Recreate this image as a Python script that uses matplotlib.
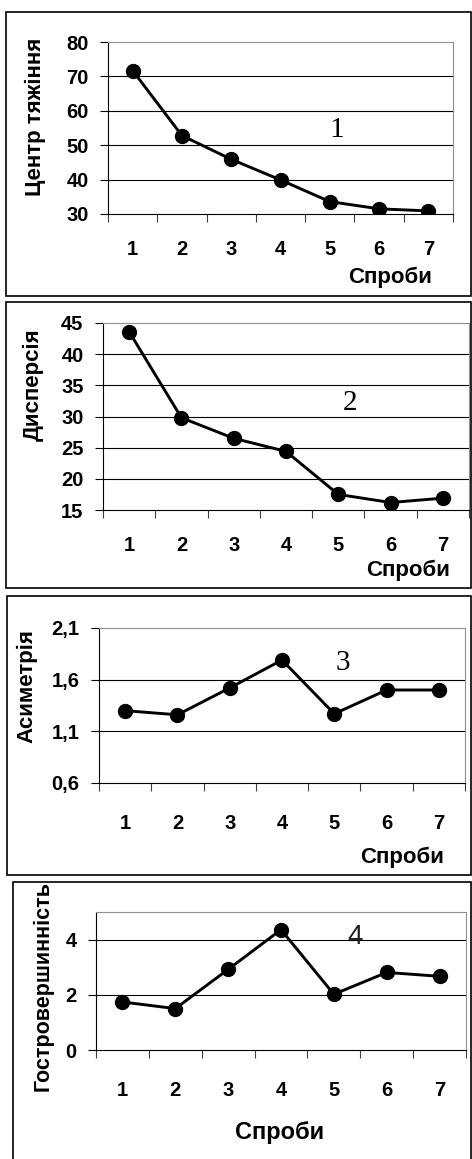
import matplotlib
matplotlib.use('Agg')
import matplotlib.pyplot as plt
from matplotlib.patches import Rectangle
import numpy as np

# data
trials = [1, 2, 3, 4, 5, 6, 7]
centre = [71.7, 52.8, 45.9, 39.9, 33.6, 31.5, 30.9]
dispersion = [43.6, 29.8, 26.5, 24.4, 17.5, 16.2, 16.9]
asymmetry = [1.30, 1.26, 1.52, 1.79, 1.27, 1.50, 1.50]
kurtosis = [1.74, 1.50, 2.92, 4.36, 2.02, 2.81, 2.67]

ylabels = ['Центр тяжіння', 'Дисперсія', 'Асиметрія', 'Гостровершинність']
xlabel = 'Спроби'
yticks1 = [30, 40, 50, 60, 70, 80]
yticks2 = [15, 20, 25, 30, 35, 40, 45]
yticks3 = [0.6, 1.1, 1.6, 2.1]
ytick3_labels = ['0,6', '1,1', '1,6', '2,1']
yticks4 = [0, 2, 4]

W, H = 472, 1159
plt.rcParams['font.family'] = 'Liberation Sans'
fig = plt.figure(figsize=(W / 100, H / 100), dpi=100)

def fx(px):
    return px / W

def fy(py):
    return 1 - py / H

def box(x0, y0, x1, y1):
    fig.patches.append(Rectangle((fx(x0), fy(y1)), fx(x1) - fx(x0), fy(y0) - fy(y1),
                                 transform=fig.transFigure, fill=False,
                                 edgecolor='black', linewidth=1.2))

def panel(l, r, t, b, values, ylim, yticks, grid, ticklabels=None, xpad=19):
    ax = fig.add_axes([fx(l), fy(b), fx(r) - fx(l), fy(t) - fy(b)])
    ax.plot(trials, values, color='black', lw=2.1, marker='o', ms=10)
    ax.set_xlim(0.5, 7.5)
    ax.set_ylim(*ylim)
    ax.set_yticks(yticks)
    if ticklabels is not None:
        ax.set_yticklabels(ticklabels)
    for g in grid:
        ax.axhline(g, color='black', lw=0.8, zorder=0)
    ax.set_xticks(np.arange(0.5, 8, 1))
    ax.set_xticklabels([])
    ax.set_xticks(trials, minor=True)
    ax.set_xticklabels([str(t) for t in trials], minor=True)
    ax.tick_params(axis='x', which='major', direction='out', length=5.5, width=0.8, color='#404040')
    ax.tick_params(axis='x', which='minor', length=0, pad=xpad, labelsize=14.5)
    ax.tick_params(axis='y', direction='out', length=6, width=0.8, pad=8, labelsize=14.5)
    for lab in ax.get_xticklabels(minor=True) + ax.get_yticklabels():
        lab.set_fontweight('bold')
    ax.spines['top'].set_color('#909090')
    ax.spines['right'].set_color('#909090')
    for s in ['top', 'right', 'left', 'bottom']:
        ax.spines[s].set_linewidth(0.8)
    return ax

# panel frames
box(6, 12, 471, 296)
box(6, 302, 471, 588)
box(7, 596, 471, 875)
box(13, 882, 471, 1165)

panel(108, 453, 42, 214, centre, (30, 80), yticks1, [40, 50, 60, 70], xpad=19)
panel(103, 469, 323, 510, dispersion, (15, 45), yticks2, [20, 25, 30, 35, 40], xpad=19)
panel(99, 465, 628, 783, asymmetry, (0.6, 2.1), yticks3, [1.1, 1.6], ytick3_labels, xpad=22)
panel(96, 466, 912, 1050, kurtosis, (0, 5), yticks4, [2, 4], xpad=22)

# axis titles
ylab_pos = [(35, 117), (33, 385), (27, 686), (43, 986)]
for text, (px, py) in zip(ylabels, ylab_pos):
    fig.text(fx(px), fy(py), text, rotation=90, ha='center', va='center',
             fontsize=16 if len(text) < 15 else 15.5, fontweight='bold')

xlab_pos = [(390, 277), (408, 570), (402, 857), (280, 1132)]
for i, (px, py) in enumerate(xlab_pos):
    fig.text(fx(px), fy(py), xlabel, ha='center', va='center',
             fontsize=16 if i < 3 else 17, fontweight='bold')

# panel numbers
num_pos = [(337, 130), (350, 403), (343, 663)]
for i, (px, py) in enumerate(num_pos):
    fig.text(fx(px), fy(py), str(i + 1), ha='center', va='center',
             fontsize=21, family='Liberation Serif')
fig.text(fx(355), fy(937), '4', ha='center', va='center', fontsize=20,
         family='Liberation Sans', color='#202020')

fig.savefig('out.png', dpi=100)
